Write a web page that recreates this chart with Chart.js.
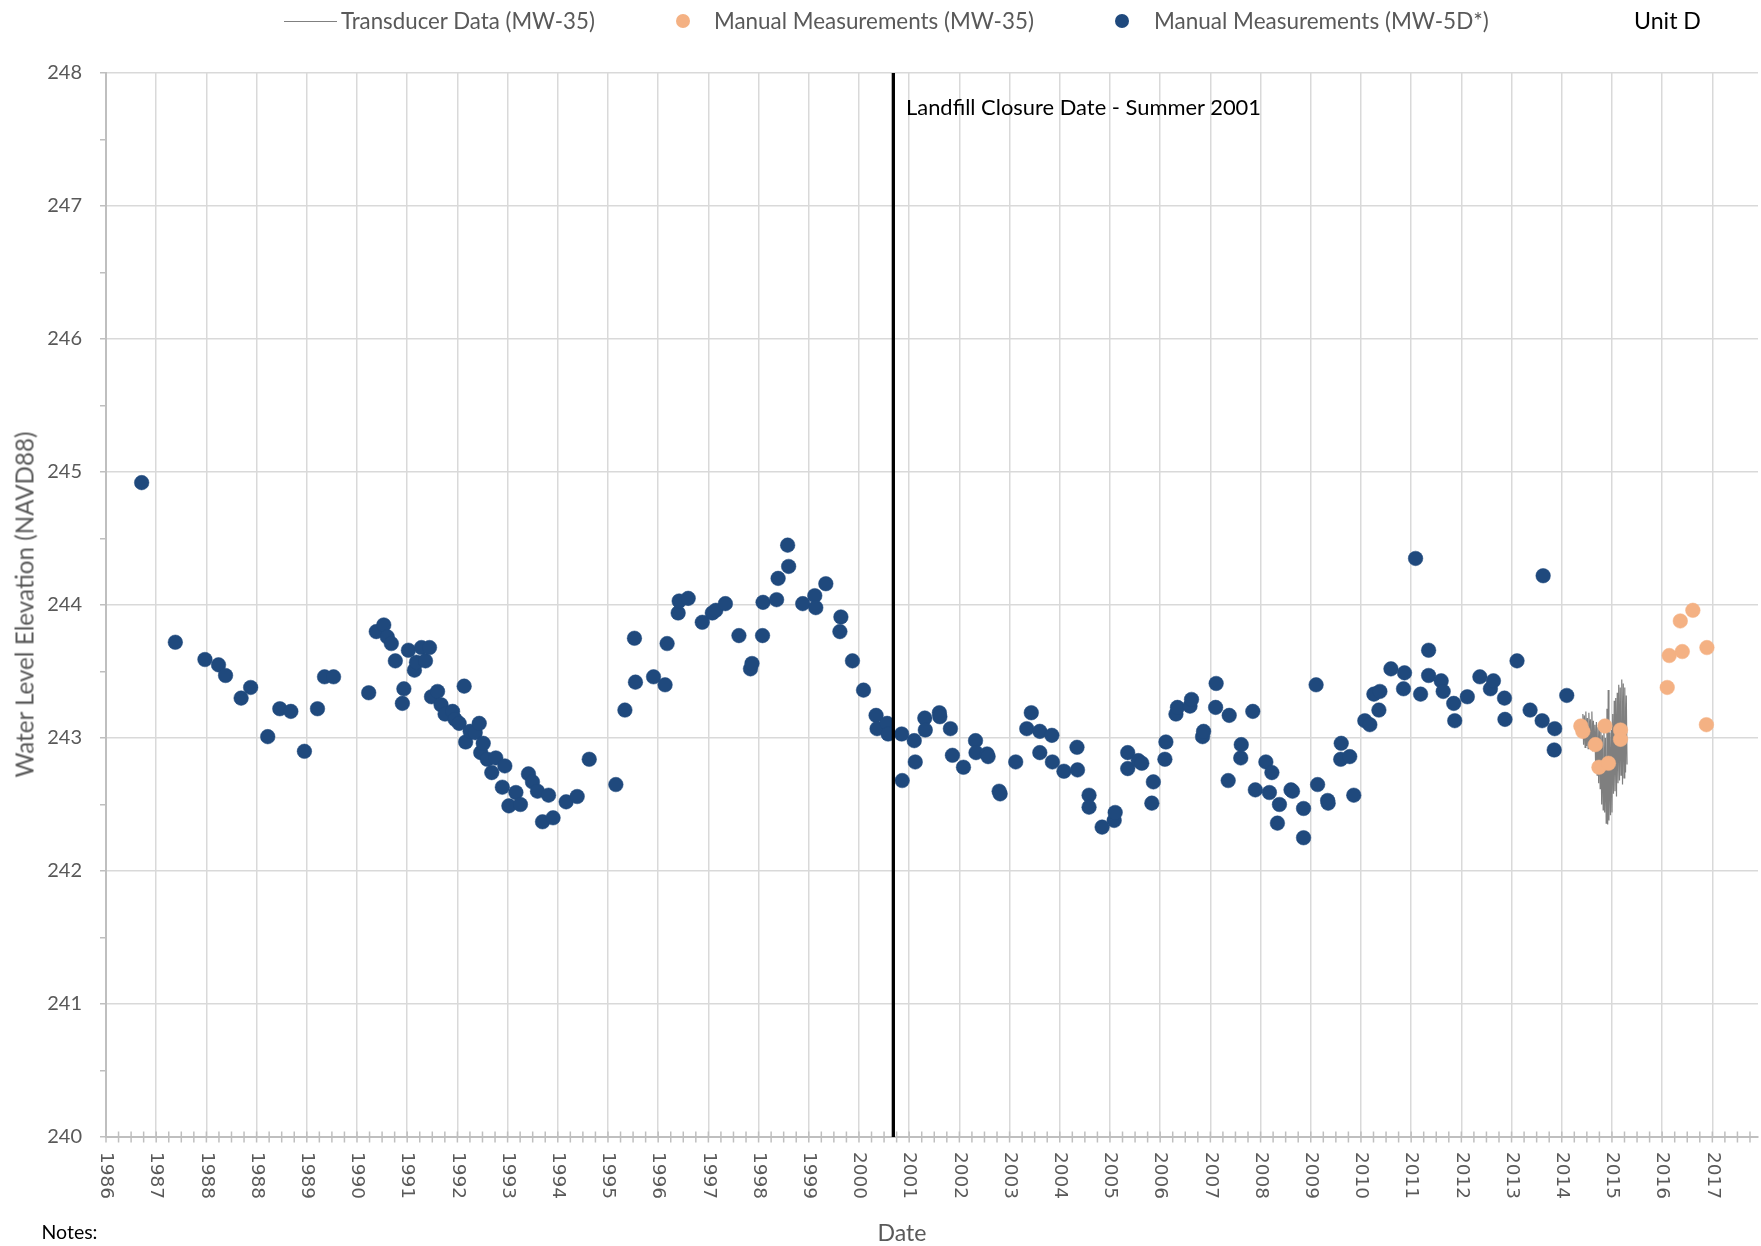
<!DOCTYPE html>
<html>
<head>
<meta charset="utf-8">
<script src="https://cdn.jsdelivr.net/npm/chart.js@4/dist/chart.umd.min.js"></script>
<style>
  html, body { margin: 0; padding: 0; background: #ffffff; }
  #wrap { position: relative; width: 1761px; height: 1246px; overflow: hidden; background: #fff; }
  #c { position: absolute; left: 0; top: 0; }
  .t { position: absolute; white-space: nowrap; font-family: Lato, "Open Sans", sans-serif; color: #595959; line-height: 1.2; }
  .blk { color: #000000; }
  .sw { position: absolute; }
</style>
</head>
<body>
<div id="wrap">
  <canvas id="c" width="1761" height="1246"></canvas>

  <div class="sw" style="left:284px; top:21px; width:53px; height:0; border-top:1.5px solid #808080;"></div>
  <div class="t" data-w="254" data-l="341" data-cy="21">Transducer Data (MW-35)</div>
  <div class="sw" style="left:676px; top:14px; width:14px; height:14px; border-radius:50%; background:#F4B183;"></div>
  <div class="t" data-w="320" data-l="714" data-cy="21">Manual Measurements (MW-35)</div>
  <div class="sw" style="left:1115px; top:14px; width:14px; height:14px; border-radius:50%; background:#1F497D;"></div>
  <div class="t" data-w="335" data-l="1154" data-cy="21">Manual Measurements (MW-5D*)</div>
  <div class="t blk" data-w="67" data-l="1634" data-cy="21">Unit D</div>

  <div class="t blk" data-w="355" data-l="906" data-cy="107">Landfill Closure Date - Summer 2001</div>
  <div class="t" data-w="346" data-cx="23.5" data-cy="605" data-rot="1">Water Level Elevation (NAVD88)</div>
  <div class="t" data-w="49" data-cx="902" data-cy="1233">Date</div>
  <div class="t blk" data-w="56" data-l="41.5" data-cy="1232">Notes:</div>
</div>

<script>
// ---------------- DATA ----------------
// Manual measurements, well MW-5D* (decimal year, water level ft NAVD88)
const blueYears = [
  1986.71,1987.38,1987.97,1988.24,1988.38,1988.69,1988.88,1989.22,1989.46,1989.68,
  1989.95,1990.21,1990.35,1990.53,1991.23,1991.38,1991.53,1991.60,1991.68,1991.76,
  1991.90,1991.93,1992.02,1992.14,1992.18,1992.28,1992.36,1992.44,1992.48,1992.60,
  1992.67,1992.75,1992.90,1992.95,1993.03,1993.13,1993.16,1993.25,1993.35,1993.43,
  1993.46,1993.51,1993.59,1993.68,1993.76,1993.89,1993.94,1994.02,1994.16,1994.25,
  1994.41,1994.49,1994.59,1994.69,1994.81,1994.90,1995.16,1995.38,1995.62,1996.15,
  1996.33,1996.52,1996.54,1996.90,1997.13,1997.17,1997.39,1997.41,1997.59,1997.87,
  1998.07,1998.14,1998.33,1998.60,1998.83,1998.86,1999.07,1999.08,1999.35,1999.38,
  1999.57,1999.59,1999.87,2000.11,2000.13,2000.33,2000.61,2000.63,2000.86,2001.08,
  2001.33,2001.35,2001.55,2001.57,2001.84,2001.85,2002.09,2002.11,2002.30,2002.31,
  2002.59,2002.60,2002.81,2002.85,2003.07,2003.31,2003.32,2003.54,2003.56,2003.78,
  2003.80,2004.11,2004.33,2004.42,2004.59,2004.59,2004.83,2004.84,2005.07,2005.33,
  2005.34,2005.57,2005.57,2005.83,2006.07,2006.09,2006.34,2006.34,2006.55,2006.62,
  2006.82,2006.85,2007.08,2007.10,2007.30,2007.33,2007.58,2007.61,2007.83,2007.85,
  2008.09,2008.10,2008.34,2008.36,2008.59,2008.60,2008.83,2008.88,2009.09,2009.16,
  2009.21,2009.32,2009.36,2009.59,2009.62,2009.84,2009.84,2010.09,2010.12,2010.32,
  2010.33,2010.58,2010.59,2010.76,2010.84,2011.06,2011.16,2011.24,2011.34,2011.36,
  2011.58,2011.83,2011.85,2012.07,2012.17,2012.33,2012.33,2012.58,2012.62,2012.83,
  2012.85,2013.10,2013.35,2013.56,2013.62,2013.84,2013.85,2014.09,2014.35,2014.59,
  2014.61,2014.83,2014.84,2015.08
];
const blueLevels = [
  244.92,243.72,243.59,243.55,243.47,243.30,243.38,243.01,243.22,243.20,
  242.90,243.22,243.46,243.46,243.34,243.80,243.85,243.76,243.71,243.58,
  243.26,243.37,243.66,243.51,243.57,243.68,243.58,243.68,243.31,243.35,
  243.25,243.18,243.20,243.14,243.11,243.39,242.97,243.05,243.04,243.11,
  242.89,242.96,242.84,242.74,242.85,242.63,242.79,242.49,242.59,242.50,
  242.73,242.67,242.60,242.37,242.57,242.40,242.52,242.56,242.84,242.65,
  243.21,243.75,243.42,243.46,243.40,243.71,243.94,244.03,244.05,243.87,
  243.94,243.96,244.01,243.77,243.52,243.56,243.77,244.02,244.04,244.20,
  244.45,244.29,244.01,244.07,243.98,244.16,243.80,243.91,243.58,243.36,
  243.17,243.07,243.11,243.03,243.03,242.68,242.98,242.82,243.15,243.06,
  243.19,243.16,243.07,242.87,242.78,242.98,242.89,242.88,242.86,242.60,
  242.58,242.82,243.07,243.19,243.05,242.89,243.02,242.82,242.75,242.93,
  242.76,242.57,242.48,242.33,242.38,242.44,242.89,242.77,242.83,242.81,
  242.51,242.67,242.84,242.97,243.18,243.23,243.24,243.29,243.01,243.05,
  243.23,243.41,242.68,243.17,242.85,242.95,243.20,242.61,242.82,242.59,
  242.74,242.36,242.50,242.61,242.60,242.47,242.25,243.40,242.65,242.53,
  242.51,242.84,242.96,242.86,242.57,243.13,243.10,243.33,243.21,243.35,
  243.52,243.37,243.49,244.35,243.33,243.66,243.47,243.43,243.35,243.26,
  243.13,243.31,243.46,243.37,243.43,243.30,243.14,243.58,243.21,243.13,
  244.22,242.91,243.07,243.32
];

// Manual measurements, well MW-35
const orangeYears  = [2015.36,2015.40,2015.65,2015.72,2015.84,2015.91,2016.15,2016.15,2017.08,2017.12,2017.34,2017.38,2017.59,2017.86,2017.87];
const orangeLevels = [243.09,243.05,242.95,242.78,243.09,242.81,243.06,242.99,243.38,243.62,243.88,243.65,243.96,243.10,243.68];

// Transducer record, well MW-35
const transducerYears = [
  2015.400,2015.415,2015.430,2015.445,2015.460,2015.475,2015.490,2015.505,2015.520,2015.535,
  2015.550,2015.565,2015.580,2015.595,2015.610,2015.625,2015.640,2015.655,2015.670,2015.685,
  2015.700,2015.715,2015.730,2015.745,2015.760,2015.775,2015.790,2015.805,2015.820,2015.835,
  2015.850,2015.865,2015.880,2015.895,2015.905,2015.920,2015.935,2015.950,2015.965,2015.980,
  2015.995,2016.010,2016.025,2016.040,2016.055,2016.070,2016.085,2016.100,2016.115,2016.130,
  2016.145,2016.160,2016.175,2016.190,2016.205,2016.220,2016.235,2016.250,2016.265,2016.280
];
const transducerLevels = [
  243.18,242.95,243.17,242.93,243.20,242.94,243.15,242.92,243.19,242.96,
  243.14,242.92,243.20,242.90,243.13,242.92,243.10,242.78,243.12,242.72,
  243.08,242.66,243.11,242.62,243.05,242.50,243.02,242.46,243.10,242.44,
  243.00,242.36,243.22,242.35,243.36,242.38,243.04,242.42,243.06,242.44,
  243.18,242.58,243.28,242.60,243.30,242.56,243.34,242.66,243.40,242.68,
  243.38,242.72,243.44,242.65,243.41,242.70,243.38,242.74,243.32,242.80
];

// Landfill closure (summer 2001), decimal year
const closureYear = 2001.674;

// Date-axis tick labels (major unit of 365 days from 1 Jan 1986)
const xTickLabels = ['1986','1987','1988','1988','1989','1990','1991','1992','1993','1994','1995',
  '1996','1997','1998','1999','2000','2001','2002','2003','2004','2005','2006','2007','2008',
  '2009','2010','2011','2012','2013','2014','2015','2016','2017'];

// ---------------- AXIS SETTINGS ----------------
const MAJOR_UNIT_DAYS = 365;
const MINOR_UNIT_DAYS = 365 / 4;
const X_MAX_DAYS = 12012;
const Y_MIN = 240, Y_MAX = 248;

const toDays = t => (t - 1986) * 365.25;
const pts = (xs, ys) => xs.map((t, i) => ({ x: toDays(t), y: ys[i] }));

const xAxisDecor = {
  id: 'xAxisDecor',
  afterDraw(chart) {
    const { ctx, chartArea } = chart;
    const x = chart.scales.x;
    const yb = chartArea.bottom;
    ctx.save();
    ctx.strokeStyle = '#BFBFBF';
    ctx.lineWidth = 1.5;
    for (let d = 0; d <= x.max + 0.001; d += MINOR_UNIT_DAYS) {
      const px = x.getPixelForValue(d);
      ctx.beginPath();
      ctx.moveTo(px, yb - 5.5);
      ctx.lineTo(px, yb + 5.5);
      ctx.stroke();
    }
    ctx.fillStyle = '#595959';
    ctx.font = '18.5px "DejaVu Sans"';
    ctx.textAlign = 'left';
    ctx.textBaseline = 'middle';
    xTickLabels.forEach((lab, i) => {
      const px = x.getPixelForValue(i * MAJOR_UNIT_DAYS);
      ctx.save();
      ctx.translate(px, yb + 15);
      ctx.rotate(Math.PI / 2);
      ctx.fillText(lab, 0, 0);
      ctx.restore();
    });
    ctx.restore();
  }
};

new Chart(document.getElementById('c'), {
  type: 'scatter',
  data: {
    datasets: [
      { label: 'Landfill Closure Date - Summer 2001',
        data: [{ x: toDays(closureYear), y: Y_MIN }, { x: toDays(closureYear), y: Y_MAX }],
        showLine: true, borderColor: '#000000', borderWidth: 3.3, pointRadius: 0, order: 0 },
      { label: 'Manual Measurements (MW-5D*)', data: pts(blueYears, blueLevels),
        backgroundColor: '#1F497D', borderColor: '#1F497D', borderWidth: 0.5, pointRadius: 7.3, order: 1 },
      { label: 'Manual Measurements (MW-35)', data: pts(orangeYears, orangeLevels),
        backgroundColor: '#F4B183', borderColor: '#F4B183', borderWidth: 0.5, pointRadius: 7.3, order: 2 },
      { label: 'Transducer Data (MW-35)', data: pts(transducerYears, transducerLevels),
        showLine: true, borderColor: '#7F7F7F', borderWidth: 1.2, pointRadius: 0, order: 3 }
    ]
  },
  options: {
    responsive: false,
    animation: false,
    events: [],
    layout: { autoPadding: false, padding: { top: 73, right: 3, left: 0, bottom: 0 } },
    plugins: { legend: { display: false }, tooltip: { enabled: false } },
    scales: {
      x: {
        type: 'linear', min: 0, max: X_MAX_DAYS,
        afterBuildTicks: s => { s.ticks = xTickLabels.map((_, i) => ({ value: i * MAJOR_UNIT_DAYS })); },
        ticks: { display: false },
        grid: { color: '#D9D9D9', lineWidth: 1.5, drawTicks: false },
        border: { color: '#BFBFBF', width: 2 },
        afterFit: s => { s.height = 109; }
      },
      y: {
        min: Y_MIN, max: Y_MAX,
        ticks: {
          stepSize: 0.5,
          callback: v => Number.isInteger(v) ? String(v) : '',
          color: '#595959', font: { family: 'Lato', size: 20 }, padding: 18
        },
        grid: {
          color: c => Number.isInteger(c.tick.value) ? '#D9D9D9' : 'rgba(0,0,0,0)',
          lineWidth: 1.5, tickColor: '#BFBFBF', tickLength: 6, tickWidth: 1.5
        },
        border: { color: '#BFBFBF', width: 2 },
        afterFit: s => { s.width = 106; }
      }
    }
  },
  plugins: [xAxisDecor]
});

// place the text labels
document.querySelectorAll('.t').forEach(el => {
  const w = parseFloat(el.dataset.w);
  el.style.fontSize = '20px';
  const w0 = el.getBoundingClientRect().width;
  el.style.fontSize = (20 * w / w0).toFixed(2) + 'px';
  const r = el.getBoundingClientRect();
  const cy = parseFloat(el.dataset.cy);
  if (el.dataset.rot) {
    const cx = parseFloat(el.dataset.cx);
    el.style.left = (cx - r.width / 2) + 'px';
    el.style.top = (cy - r.height / 2) + 'px';
    el.style.transform = 'rotate(-90deg)';
  } else {
    const left = el.dataset.l !== undefined ? parseFloat(el.dataset.l) : parseFloat(el.dataset.cx) - r.width / 2;
    el.style.left = left + 'px';
    el.style.top = (cy - r.height / 2) + 'px';
  }
});
</script>
</body>
</html>
